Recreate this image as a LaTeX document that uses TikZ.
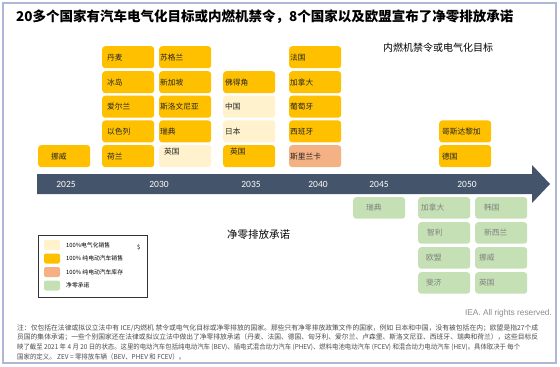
\documentclass[tikz,border=0pt]{standalone}
\usepackage{fontspec}
\setmainfont{Noto Sans CJK SC}
\newfontfamily\yearfont{Carlito}
\newfontfamily\ieafont{Liberation Sans}
\definecolor{ybox}{HTML}{FFC000}
\definecolor{lybox}{HTML}{FFF2CC}
\definecolor{sbox}{HTML}{F4B183}
\definecolor{gboxc}{HTML}{C5E0B4}
\definecolor{arrowc}{HTML}{44546A}
\definecolor{framec}{RGB}{176,182,214}
\begin{document}
\begin{tikzpicture}[x=1pt,y=-1pt,
 cell/.style={rectangle, rounded corners=3pt, anchor=north west, minimum height=22pt, text width=52pt, inner xsep=0pt, inner ysep=0pt, align=left, font=\fontsize{7.7}{9}\selectfont, text=black!85},
 yc/.style={cell, fill=ybox},
 lc/.style={cell, fill=lybox},
 sc/.style={cell, fill=sbox},
 gc/.style={cell, fill=gboxc, minimum height=21.5pt, text=black!50},
 raised/.style={text height=7pt, text depth=11pt},
 yr/.style={font=\yearfont\fontsize{9.5}{11}\selectfont, text=white, inner sep=0pt},
 sw/.style={rounded corners=2pt, minimum width=16pt, minimum height=10pt, inner sep=0pt},
 lg/.style={anchor=west, inner sep=0pt, font=\fontsize{5.8}{7}\selectfont, text=black},
 foot/.style={anchor=west, inner sep=0pt, font=\fontsize{6.8}{8}\selectfont, text=black!70},
 ]
\useasboundingbox (0,0) rectangle (560,367);
\fill[white] (0,0) rectangle (560,367);
\draw[framec, line width=2pt] (3,3) rectangle (556,363);

\node[anchor=west, inner sep=0pt, font=\bfseries\fontsize{13.5}{15}\selectfont] (title) at (16,17) {20多个国家有汽车电气化目标或内燃机禁令，8个国家以及欧盟宣布了净零排放承诺};
\node[anchor=west, inner sep=0pt, font=\fontsize{10}{12}\selectfont] (sub) at (383,48) {内燃机禁令或电气化目标};

% 2025
\node[yc] (no25) at (38,145) {\hspace*{13pt}挪威};
% 2030 a
\node[yc] (dk) at (102,46) {\hspace*{5pt}丹麦};
\node[yc] (is) at (102,71) {\hspace*{5pt}冰岛};
\node[yc] (ie) at (102,95.5) {\hspace*{5pt}爱尔兰};
\node[yc] (il) at (102,120.25) {\hspace*{5pt}以色列};
\node[yc] (nl) at (102,145) {\hspace*{5pt}荷兰};
% 2030 b
\node[yc] (sco) at (159,46) {\hspace*{1pt}苏格兰};
\node[yc] (sg) at (159,71) {\hspace*{1pt}新加坡};
\node[yc] (si) at (159,95.5) {\hspace*{1pt}斯洛文尼亚};
\node[yc] (se30) at (159,120.25) {\hspace*{1pt}瑞典};
\node[lc, raised] (uk30) at (159,145) {\hspace*{5pt}英国};
% 2035
\node[yc] (cv) at (223,71) {\hspace*{2pt}佛得角};
\node[lc] (cn) at (223,95.5) {\hspace*{2pt}中国};
\node[lc] (jp) at (223,120.25) {\hspace*{2pt}日本};
\node[yc, raised] (uk35) at (223,145) {\hspace*{7pt}英国};
% 2040
\node[yc] (fr) at (289,46) {\hspace*{1pt}法国};
\node[yc] (ca40) at (289,71) {\hspace*{1pt}加拿大};
\node[yc] (pt) at (289,95.5) {\hspace*{1pt}葡萄牙};
\node[yc] (es) at (289,120.25) {\hspace*{1pt}西班牙};
\node[sc] (lk) at (289,145) {\hspace*{1pt}斯里兰卡};
% 2050
\node[yc] (cr) at (439,120.25) {\hspace*{3pt}哥斯达黎加};
\node[yc] (de) at (439,145) {\hspace*{3pt}德国};

% timeline arrow
\fill[arrowc] (37,174) -- (532,174) -- (532,165) -- (550,184) -- (532,203) -- (532,194) -- (37,194) -- cycle;
\node[yr] (y25) at (66,184) {2025};
\node[yr] (y30) at (159,184) {2030};
\node[yr] (y35) at (251,184) {2035};
\node[yr] (y40) at (318,184) {2040};
\node[yr] (y45) at (379,184) {2045};
\node[yr] (y50) at (467,184) {2050};

% net zero
\node[gc] (se45) at (353,197) {\hspace*{13pt}瑞典};
\node[gc] (ca50) at (418,197) {\hspace*{3pt}加拿大};
\node[gc] (cl) at (418,222) {\hspace*{9pt}智利};
\node[gc] (eu) at (418,247) {\hspace*{8pt}欧盟};
\node[gc] (fj) at (418,272) {\hspace*{8pt}斐济};
\node[gc] (kr) at (475,197) {\hspace*{9pt}韩国};
\node[gc] (nz) at (475,222) {\hspace*{9pt}新西兰};
\node[gc] (no50) at (475,247) {\hspace*{4pt}挪威};
\node[gc] (uk50) at (475,272) {\hspace*{4pt}英国};

\node[anchor=west, inner sep=0pt, font=\fontsize{10.5}{12}\selectfont] (nzlabel) at (227,235) {净零排放承诺};

% legend
\draw[black!80, line width=0.8pt] (38,235) rectangle (147,297);
\node[sw, fill=lybox] (sw1) at (52,245) {};
\node[sw, fill=ybox] (sw2) at (52,258.5) {};
\node[sw, fill=sbox] (sw3) at (52,272) {};
\node[sw, fill=gboxc] (sw4) at (52,285.5) {};
\node[lg] (lg1) at (66,245) {100\%电气化销售};
\node[lg] (lg2) at (66,258.5) {100\% 纯电动汽车销售};
\node[lg] (lg3) at (66,272) {100\% 纯电动汽车库存};
\node[lg] (lg4) at (66,285.5) {净零承诺};
\node[lg] (dollar) at (137,247) {\$};

\node[anchor=east, inner sep=0pt, font=\ieafont\fontsize{8.3}{10}\selectfont, text=black!45] (iea) at (552,313) {IEA. All rights reserved.};

\node[foot] (f1) at (17,328) {\resizebox{521pt}{\height}{注：仅包括在法律或拟议立法中有 ICE/内燃机 禁令或电气化目标或净零排放的国家。那些只有净零排放政策文件的国家，例如 日本和中国，没有被包括在内；欧盟是指27个成}};
\node[foot] (f2) at (17,337.5) {\resizebox{521pt}{\height}{员国的集体承诺；一些个别国家还在法律或拟议立法中做出了净零排放承诺（丹麦、法国、德国、匈牙利、爱尔兰、卢森堡、斯洛文尼亚、西班牙、瑞典和荷兰），这些目标反}};
\node[foot] (f3) at (17,347) {\resizebox{503pt}{\height}{映了截至 2021 年 4 月 20 日的状态。这里的电动汽车包括纯电动汽车 (BEV)、插电式混合动力汽车 (PHEV)、燃料电池电动汽车 (FCEV) 和混合动力电动汽车 (HEV)。具体取决于 每个}};
\node[foot] (f4) at (17,356.5) {\resizebox{168pt}{\height}{国家的定义。 ZEV = 零排放车辆（BEV、PHEV 和 FCEV）。}};
\end{tikzpicture}
\end{document}
